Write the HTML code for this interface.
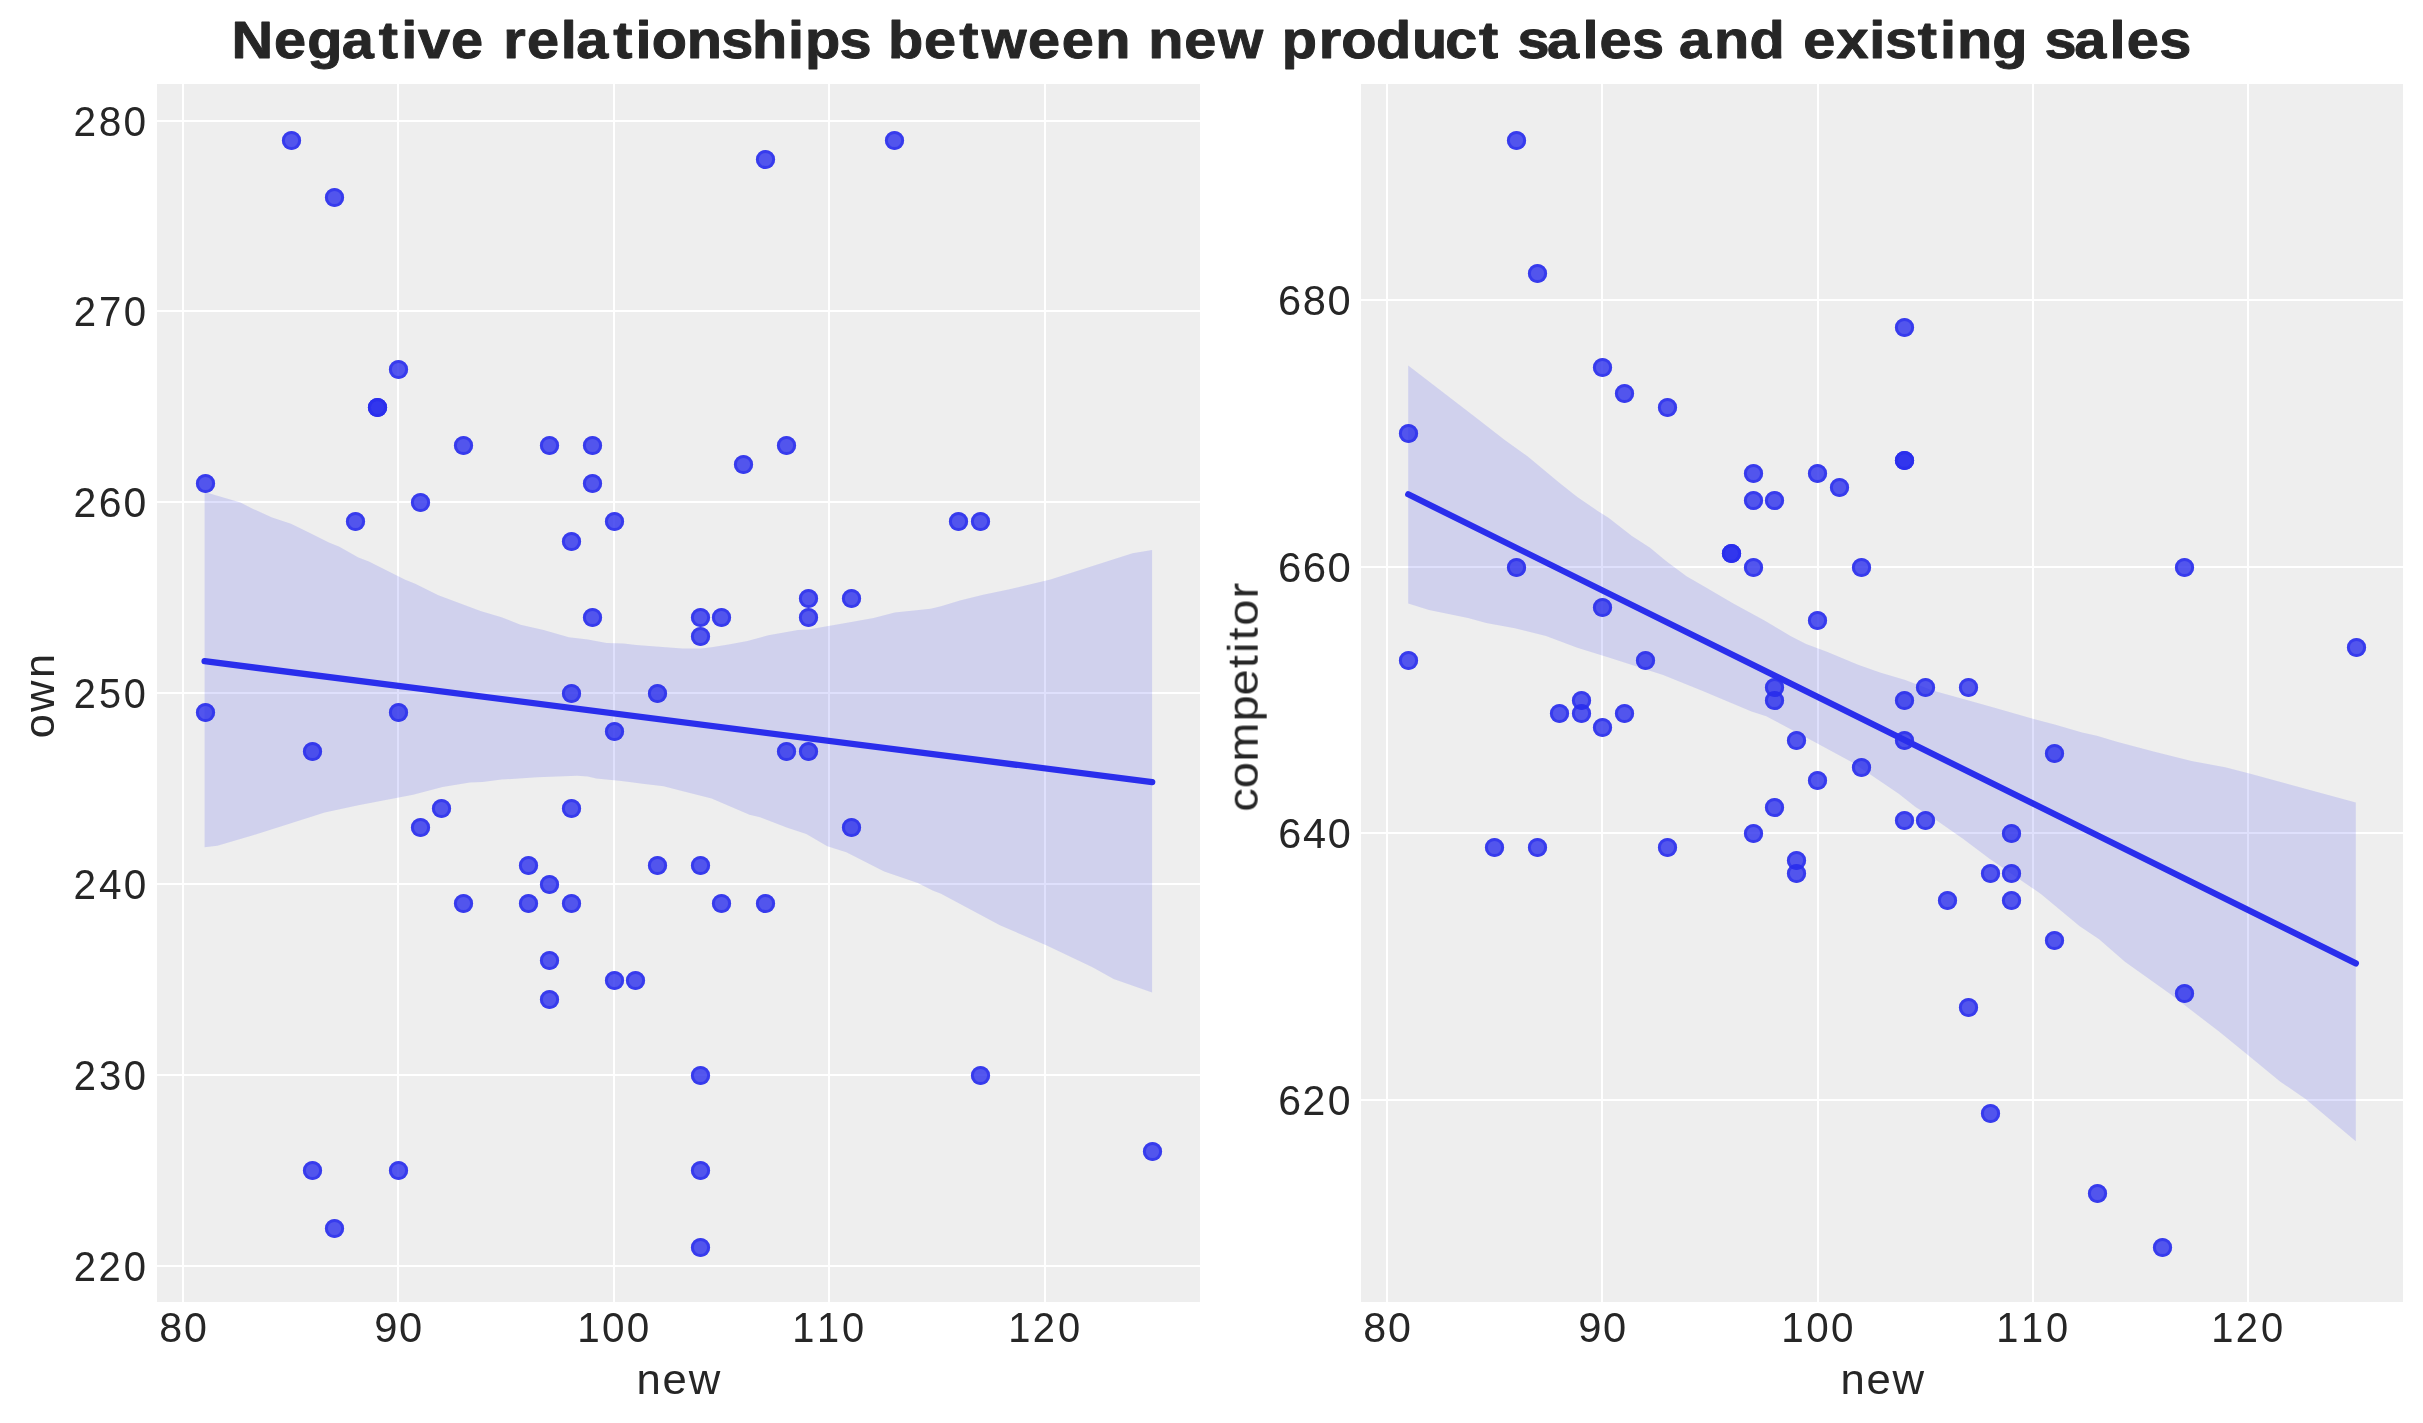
<!DOCTYPE html>
<html><head><meta charset="utf-8"><title>Negative relationships between new product sales and existing sales</title>
<style>html,body{margin:0;padding:0;background:#fff;overflow:hidden}svg{display:block}text{font-family:"Liberation Sans",sans-serif}</style>
</head><body>
<svg width="2423" height="1423" viewBox="0 0 2423 1423">
<rect x="0" y="0" width="2423" height="1423" fill="#ffffff"/>
<rect x="157" y="84" width="1043" height="1218" fill="#eeeeee"/>
<rect x="182" y="84" width="2" height="1218" fill="#ffffff"/>
<rect x="397" y="84" width="2" height="1218" fill="#ffffff"/>
<rect x="613" y="84" width="2" height="1218" fill="#ffffff"/>
<rect x="828" y="84" width="2" height="1218" fill="#ffffff"/>
<rect x="1044" y="84" width="2" height="1218" fill="#ffffff"/>
<rect x="157" y="120" width="1043" height="2" fill="#ffffff"/>
<rect x="157" y="310" width="1043" height="2" fill="#ffffff"/>
<rect x="157" y="501" width="1043" height="2" fill="#ffffff"/>
<rect x="157" y="692" width="1043" height="2" fill="#ffffff"/>
<rect x="157" y="883" width="1043" height="2" fill="#ffffff"/>
<rect x="157" y="1074" width="1043" height="2" fill="#ffffff"/>
<rect x="157" y="1265" width="1043" height="2" fill="#ffffff"/>
<g fill="#2a2eec" fill-opacity="0.8">
<circle cx="291.5" cy="140.5" r="9.6"/>
<circle cx="334.5" cy="197.5" r="9.6"/>
<circle cx="398.5" cy="369.5" r="9.6"/>
<circle cx="377.5" cy="407.5" r="9.6"/>
<circle cx="377.5" cy="407.5" r="9.6"/>
<circle cx="463.5" cy="445.5" r="9.6"/>
<circle cx="549.5" cy="445.5" r="9.6"/>
<circle cx="592.5" cy="445.5" r="9.6"/>
<circle cx="205.5" cy="483.5" r="9.6"/>
<circle cx="592.5" cy="483.5" r="9.6"/>
<circle cx="420.5" cy="502.5" r="9.6"/>
<circle cx="355.5" cy="521.5" r="9.6"/>
<circle cx="614.5" cy="521.5" r="9.6"/>
<circle cx="571.5" cy="541.5" r="9.6"/>
<circle cx="592.5" cy="617.5" r="9.6"/>
<circle cx="571.5" cy="693.5" r="9.6"/>
<circle cx="657.5" cy="693.5" r="9.6"/>
<circle cx="765.5" cy="159.5" r="9.6"/>
<circle cx="894.5" cy="140.5" r="9.6"/>
<circle cx="786.5" cy="445.5" r="9.6"/>
<circle cx="743.5" cy="464.5" r="9.6"/>
<circle cx="958.5" cy="521.5" r="9.6"/>
<circle cx="980.5" cy="521.5" r="9.6"/>
<circle cx="808.5" cy="598.5" r="9.6"/>
<circle cx="851.5" cy="598.5" r="9.6"/>
<circle cx="700.5" cy="617.5" r="9.6"/>
<circle cx="721.5" cy="617.5" r="9.6"/>
<circle cx="808.5" cy="617.5" r="9.6"/>
<circle cx="700.5" cy="636.5" r="9.6"/>
<circle cx="205.5" cy="712.5" r="9.6"/>
<circle cx="398.5" cy="712.5" r="9.6"/>
<circle cx="312.5" cy="751.5" r="9.6"/>
<circle cx="614.5" cy="731.5" r="9.6"/>
<circle cx="441.5" cy="808.5" r="9.6"/>
<circle cx="571.5" cy="808.5" r="9.6"/>
<circle cx="420.5" cy="827.5" r="9.6"/>
<circle cx="528.5" cy="865.5" r="9.6"/>
<circle cx="657.5" cy="865.5" r="9.6"/>
<circle cx="549.5" cy="884.5" r="9.6"/>
<circle cx="463.5" cy="903.5" r="9.6"/>
<circle cx="528.5" cy="903.5" r="9.6"/>
<circle cx="571.5" cy="903.5" r="9.6"/>
<circle cx="549.5" cy="960.5" r="9.6"/>
<circle cx="614.5" cy="980.5" r="9.6"/>
<circle cx="635.5" cy="980.5" r="9.6"/>
<circle cx="549.5" cy="999.5" r="9.6"/>
<circle cx="312.5" cy="1170.5" r="9.6"/>
<circle cx="398.5" cy="1170.5" r="9.6"/>
<circle cx="334.5" cy="1228.5" r="9.6"/>
<circle cx="786.5" cy="751.5" r="9.6"/>
<circle cx="808.5" cy="751.5" r="9.6"/>
<circle cx="851.5" cy="827.5" r="9.6"/>
<circle cx="700.5" cy="865.5" r="9.6"/>
<circle cx="721.5" cy="903.5" r="9.6"/>
<circle cx="765.5" cy="903.5" r="9.6"/>
<circle cx="700.5" cy="1075.5" r="9.6"/>
<circle cx="980.5" cy="1075.5" r="9.6"/>
<circle cx="1152.5" cy="1151.5" r="9.6"/>
<circle cx="700.5" cy="1170.5" r="9.6"/>
<circle cx="700.5" cy="1247.5" r="9.6"/>
</g>
<g fill="none" stroke="#2a2eec" stroke-opacity="0.65" stroke-width="3">
<circle cx="291.5" cy="140.5" r="8.1"/>
<circle cx="334.5" cy="197.5" r="8.1"/>
<circle cx="398.5" cy="369.5" r="8.1"/>
<circle cx="377.5" cy="407.5" r="8.1"/>
<circle cx="377.5" cy="407.5" r="8.1"/>
<circle cx="463.5" cy="445.5" r="8.1"/>
<circle cx="549.5" cy="445.5" r="8.1"/>
<circle cx="592.5" cy="445.5" r="8.1"/>
<circle cx="205.5" cy="483.5" r="8.1"/>
<circle cx="592.5" cy="483.5" r="8.1"/>
<circle cx="420.5" cy="502.5" r="8.1"/>
<circle cx="355.5" cy="521.5" r="8.1"/>
<circle cx="614.5" cy="521.5" r="8.1"/>
<circle cx="571.5" cy="541.5" r="8.1"/>
<circle cx="592.5" cy="617.5" r="8.1"/>
<circle cx="571.5" cy="693.5" r="8.1"/>
<circle cx="657.5" cy="693.5" r="8.1"/>
<circle cx="765.5" cy="159.5" r="8.1"/>
<circle cx="894.5" cy="140.5" r="8.1"/>
<circle cx="786.5" cy="445.5" r="8.1"/>
<circle cx="743.5" cy="464.5" r="8.1"/>
<circle cx="958.5" cy="521.5" r="8.1"/>
<circle cx="980.5" cy="521.5" r="8.1"/>
<circle cx="808.5" cy="598.5" r="8.1"/>
<circle cx="851.5" cy="598.5" r="8.1"/>
<circle cx="700.5" cy="617.5" r="8.1"/>
<circle cx="721.5" cy="617.5" r="8.1"/>
<circle cx="808.5" cy="617.5" r="8.1"/>
<circle cx="700.5" cy="636.5" r="8.1"/>
<circle cx="205.5" cy="712.5" r="8.1"/>
<circle cx="398.5" cy="712.5" r="8.1"/>
<circle cx="312.5" cy="751.5" r="8.1"/>
<circle cx="614.5" cy="731.5" r="8.1"/>
<circle cx="441.5" cy="808.5" r="8.1"/>
<circle cx="571.5" cy="808.5" r="8.1"/>
<circle cx="420.5" cy="827.5" r="8.1"/>
<circle cx="528.5" cy="865.5" r="8.1"/>
<circle cx="657.5" cy="865.5" r="8.1"/>
<circle cx="549.5" cy="884.5" r="8.1"/>
<circle cx="463.5" cy="903.5" r="8.1"/>
<circle cx="528.5" cy="903.5" r="8.1"/>
<circle cx="571.5" cy="903.5" r="8.1"/>
<circle cx="549.5" cy="960.5" r="8.1"/>
<circle cx="614.5" cy="980.5" r="8.1"/>
<circle cx="635.5" cy="980.5" r="8.1"/>
<circle cx="549.5" cy="999.5" r="8.1"/>
<circle cx="312.5" cy="1170.5" r="8.1"/>
<circle cx="398.5" cy="1170.5" r="8.1"/>
<circle cx="334.5" cy="1228.5" r="8.1"/>
<circle cx="786.5" cy="751.5" r="8.1"/>
<circle cx="808.5" cy="751.5" r="8.1"/>
<circle cx="851.5" cy="827.5" r="8.1"/>
<circle cx="700.5" cy="865.5" r="8.1"/>
<circle cx="721.5" cy="903.5" r="8.1"/>
<circle cx="765.5" cy="903.5" r="8.1"/>
<circle cx="700.5" cy="1075.5" r="8.1"/>
<circle cx="980.5" cy="1075.5" r="8.1"/>
<circle cx="1152.5" cy="1151.5" r="8.1"/>
<circle cx="700.5" cy="1170.5" r="8.1"/>
<circle cx="700.5" cy="1247.5" r="8.1"/>
</g>
<path d="M204.6,492.1 L240.5,502.6 L253.1,508.9 L272.1,517.4 L291,523.7 L307.9,532.1 L328.9,542.6 L339.4,546.8 L358.4,557.4 L368.9,561.6 L404.7,579.5 L415.2,583.7 L438.4,595.2 L480.5,611 L501.5,617.3 L520.5,624.7 L543.6,630 L568.9,637.3 L587.8,639.4 L606.7,643 L623.6,643.6 L636.2,645.1 L682.5,648.5 L701,648.4 L711.6,647.3 L728.4,644.6 L747.4,641 L768.4,635.3 L797.9,629.9 L808.4,629.4 L848.4,622.5 L873.6,617.9 L894.7,612.6 L930.5,608.8 L941,606.3 L959.9,600.4 L983.1,594.7 L1008.4,589.5 L1050.4,579.4 L1132.5,553.3 L1152.1,549.9 L1152.1,992.6 L1113.6,978.9 L1092.5,967.3 L1046.2,945.2 L999.9,925.2 L941,893.7 L932.6,890.5 L917.8,883.1 L884.2,871.6 L846.3,852.2 L827.3,846.3 L806.3,834.1 L787.3,827.8 L760,817.3 L749.5,814.7 L711.6,798.5 L680,790.5 L663.6,786.3 L642.5,783.8 L621.5,781 L596.2,778.5 L587.8,776.4 L577.3,775.8 L537.3,777.3 L501.5,779.6 L482.6,782.1 L469.9,782.5 L442.6,786.9 L413.1,794.7 L358.4,805.2 L324.7,812.6 L284.7,825.2 L253.1,835.3 L217.4,845.7 L204.6,847.3 Z" fill="#2a2eec" fill-opacity="0.15"/>
<line x1="204.58" y1="661.19" x2="1152.2" y2="782.1" stroke="#2a2eec" stroke-width="6.25" stroke-linecap="round"/>
<rect x="1361" y="84" width="1042" height="1218" fill="#eeeeee"/>
<rect x="1386" y="84" width="2" height="1218" fill="#ffffff"/>
<rect x="1601" y="84" width="2" height="1218" fill="#ffffff"/>
<rect x="1817" y="84" width="2" height="1218" fill="#ffffff"/>
<rect x="2032" y="84" width="2" height="1218" fill="#ffffff"/>
<rect x="2247" y="84" width="2" height="1218" fill="#ffffff"/>
<rect x="1361" y="299" width="1042" height="2" fill="#ffffff"/>
<rect x="1361" y="566" width="1042" height="2" fill="#ffffff"/>
<rect x="1361" y="832" width="1042" height="2" fill="#ffffff"/>
<rect x="1361" y="1099" width="1042" height="2" fill="#ffffff"/>
<g fill="#2a2eec" fill-opacity="0.8">
<circle cx="1516.5" cy="140.5" r="9.6"/>
<circle cx="1537.5" cy="273.5" r="9.6"/>
<circle cx="1602.5" cy="367.5" r="9.6"/>
<circle cx="1624.5" cy="393.5" r="9.6"/>
<circle cx="1667.5" cy="407.5" r="9.6"/>
<circle cx="1408.5" cy="433.5" r="9.6"/>
<circle cx="1753.5" cy="473.5" r="9.6"/>
<circle cx="1817.5" cy="473.5" r="9.6"/>
<circle cx="1839.5" cy="487.5" r="9.6"/>
<circle cx="1753.5" cy="500.5" r="9.6"/>
<circle cx="1774.5" cy="500.5" r="9.6"/>
<circle cx="1731.5" cy="553.5" r="9.6"/>
<circle cx="1731.5" cy="553.5" r="9.6"/>
<circle cx="1516.5" cy="567.5" r="9.6"/>
<circle cx="1753.5" cy="567.5" r="9.6"/>
<circle cx="1861.5" cy="567.5" r="9.6"/>
<circle cx="1602.5" cy="607.5" r="9.6"/>
<circle cx="1817.5" cy="620.5" r="9.6"/>
<circle cx="1408.5" cy="660.5" r="9.6"/>
<circle cx="1645.5" cy="660.5" r="9.6"/>
<circle cx="1774.5" cy="687.5" r="9.6"/>
<circle cx="1904.5" cy="327.5" r="9.6"/>
<circle cx="1904.5" cy="460.5" r="9.6"/>
<circle cx="1904.5" cy="460.5" r="9.6"/>
<circle cx="2184.5" cy="567.5" r="9.6"/>
<circle cx="2356.5" cy="647.5" r="9.6"/>
<circle cx="1925.5" cy="687.5" r="9.6"/>
<circle cx="1968.5" cy="687.5" r="9.6"/>
<circle cx="1774.5" cy="700.5" r="9.6"/>
<circle cx="1581.5" cy="700.5" r="9.6"/>
<circle cx="1559.5" cy="713.5" r="9.6"/>
<circle cx="1581.5" cy="713.5" r="9.6"/>
<circle cx="1624.5" cy="713.5" r="9.6"/>
<circle cx="1602.5" cy="727.5" r="9.6"/>
<circle cx="1796.5" cy="740.5" r="9.6"/>
<circle cx="1861.5" cy="767.5" r="9.6"/>
<circle cx="1817.5" cy="780.5" r="9.6"/>
<circle cx="1774.5" cy="807.5" r="9.6"/>
<circle cx="1753.5" cy="833.5" r="9.6"/>
<circle cx="1494.5" cy="847.5" r="9.6"/>
<circle cx="1537.5" cy="847.5" r="9.6"/>
<circle cx="1667.5" cy="847.5" r="9.6"/>
<circle cx="1796.5" cy="860.5" r="9.6"/>
<circle cx="1796.5" cy="873.5" r="9.6"/>
<circle cx="1904.5" cy="700.5" r="9.6"/>
<circle cx="1904.5" cy="740.5" r="9.6"/>
<circle cx="2054.5" cy="753.5" r="9.6"/>
<circle cx="1904.5" cy="820.5" r="9.6"/>
<circle cx="1925.5" cy="820.5" r="9.6"/>
<circle cx="2011.5" cy="833.5" r="9.6"/>
<circle cx="1990.5" cy="873.5" r="9.6"/>
<circle cx="2011.5" cy="873.5" r="9.6"/>
<circle cx="1947.5" cy="900.5" r="9.6"/>
<circle cx="2011.5" cy="900.5" r="9.6"/>
<circle cx="2054.5" cy="940.5" r="9.6"/>
<circle cx="2184.5" cy="993.5" r="9.6"/>
<circle cx="1968.5" cy="1007.5" r="9.6"/>
<circle cx="1990.5" cy="1113.5" r="9.6"/>
<circle cx="2097.5" cy="1193.5" r="9.6"/>
<circle cx="2162.5" cy="1247.5" r="9.6"/>
</g>
<g fill="none" stroke="#2a2eec" stroke-opacity="0.65" stroke-width="3">
<circle cx="1516.5" cy="140.5" r="8.1"/>
<circle cx="1537.5" cy="273.5" r="8.1"/>
<circle cx="1602.5" cy="367.5" r="8.1"/>
<circle cx="1624.5" cy="393.5" r="8.1"/>
<circle cx="1667.5" cy="407.5" r="8.1"/>
<circle cx="1408.5" cy="433.5" r="8.1"/>
<circle cx="1753.5" cy="473.5" r="8.1"/>
<circle cx="1817.5" cy="473.5" r="8.1"/>
<circle cx="1839.5" cy="487.5" r="8.1"/>
<circle cx="1753.5" cy="500.5" r="8.1"/>
<circle cx="1774.5" cy="500.5" r="8.1"/>
<circle cx="1731.5" cy="553.5" r="8.1"/>
<circle cx="1731.5" cy="553.5" r="8.1"/>
<circle cx="1516.5" cy="567.5" r="8.1"/>
<circle cx="1753.5" cy="567.5" r="8.1"/>
<circle cx="1861.5" cy="567.5" r="8.1"/>
<circle cx="1602.5" cy="607.5" r="8.1"/>
<circle cx="1817.5" cy="620.5" r="8.1"/>
<circle cx="1408.5" cy="660.5" r="8.1"/>
<circle cx="1645.5" cy="660.5" r="8.1"/>
<circle cx="1774.5" cy="687.5" r="8.1"/>
<circle cx="1904.5" cy="327.5" r="8.1"/>
<circle cx="1904.5" cy="460.5" r="8.1"/>
<circle cx="1904.5" cy="460.5" r="8.1"/>
<circle cx="2184.5" cy="567.5" r="8.1"/>
<circle cx="2356.5" cy="647.5" r="8.1"/>
<circle cx="1925.5" cy="687.5" r="8.1"/>
<circle cx="1968.5" cy="687.5" r="8.1"/>
<circle cx="1774.5" cy="700.5" r="8.1"/>
<circle cx="1581.5" cy="700.5" r="8.1"/>
<circle cx="1559.5" cy="713.5" r="8.1"/>
<circle cx="1581.5" cy="713.5" r="8.1"/>
<circle cx="1624.5" cy="713.5" r="8.1"/>
<circle cx="1602.5" cy="727.5" r="8.1"/>
<circle cx="1796.5" cy="740.5" r="8.1"/>
<circle cx="1861.5" cy="767.5" r="8.1"/>
<circle cx="1817.5" cy="780.5" r="8.1"/>
<circle cx="1774.5" cy="807.5" r="8.1"/>
<circle cx="1753.5" cy="833.5" r="8.1"/>
<circle cx="1494.5" cy="847.5" r="8.1"/>
<circle cx="1537.5" cy="847.5" r="8.1"/>
<circle cx="1667.5" cy="847.5" r="8.1"/>
<circle cx="1796.5" cy="860.5" r="8.1"/>
<circle cx="1796.5" cy="873.5" r="8.1"/>
<circle cx="1904.5" cy="700.5" r="8.1"/>
<circle cx="1904.5" cy="740.5" r="8.1"/>
<circle cx="2054.5" cy="753.5" r="8.1"/>
<circle cx="1904.5" cy="820.5" r="8.1"/>
<circle cx="1925.5" cy="820.5" r="8.1"/>
<circle cx="2011.5" cy="833.5" r="8.1"/>
<circle cx="1990.5" cy="873.5" r="8.1"/>
<circle cx="2011.5" cy="873.5" r="8.1"/>
<circle cx="1947.5" cy="900.5" r="8.1"/>
<circle cx="2011.5" cy="900.5" r="8.1"/>
<circle cx="2054.5" cy="940.5" r="8.1"/>
<circle cx="2184.5" cy="993.5" r="8.1"/>
<circle cx="1968.5" cy="1007.5" r="8.1"/>
<circle cx="1990.5" cy="1113.5" r="8.1"/>
<circle cx="2097.5" cy="1193.5" r="8.1"/>
<circle cx="2162.5" cy="1247.5" r="8.1"/>
</g>
<path d="M1408.2,365.6 L1442,391.6 L1475.8,417.6 L1504.4,439.7 L1527.8,456.6 L1559,482.6 L1577.3,496.9 L1598.1,511.2 L1608.5,517.7 L1631.9,536 L1650.1,547.7 L1665.7,560.7 L1686.5,576.3 L1704.7,586.7 L1733.3,603.6 L1764.5,620.5 L1790.5,636.1 L1806.1,643.9 L1826.9,651.7 L1858.1,664.7 L1880,672.6 L1905.3,680 L1932.6,690.5 L1970.5,701 L1993.7,707.4 L2033.7,718.9 L2054.7,724.6 L2082.1,732.6 L2096.8,735.8 L2117.8,742.1 L2153.6,751.6 L2191.5,761 L2225.2,767.3 L2250.4,773.7 L2355.8,802.5 L2355.8,1141.2 L2305.9,1099.2 L2280,1081.4 L2244.5,1052.3 L2218.7,1031.3 L2170.2,994.1 L2124.9,961.8 L2099.1,939.2 L2079.7,926.2 L2040.9,893.9 L1989.2,858.4 L1963.3,839 L1931,816.4 L1915.8,807.3 L1898.7,793.7 L1853.4,763 L1814.6,742 L1766.2,716.2 L1751.5,711.5 L1702.1,690.7 L1663.1,675.1 L1611.1,658.2 L1577.3,647.8 L1546,636.1 L1514.8,628.3 L1486.2,623.1 L1468,617.9 L1429,610.1 L1408.2,603.6 Z" fill="#2a2eec" fill-opacity="0.15"/>
<line x1="1408.24" y1="494.32" x2="2355.86" y2="963.41" stroke="#2a2eec" stroke-width="6.25" stroke-linecap="round"/>
<g fill="#262626" font-family="Liberation Sans, sans-serif" opacity="0.999">
<text transform="translate(0,1342) scale(0.9790,1)" x="162.75 188.02" font-size="42.1">80</text>
<text transform="translate(0,1342) scale(0.9895,1)" x="378.15 403.28" font-size="42.1">90</text>
<text transform="translate(0,1342) scale(0.9602,1)" x="601.1 627.08 652.85" font-size="42.1">100</text>
<text transform="translate(0,1342) scale(0.9456,1)" x="837.9 864.06 890.43" font-size="42.1">110</text>
<text transform="translate(0,1342) scale(0.9482,1)" x="1063.38 1089.14 1115.77" font-size="42.1">120</text>
<text transform="translate(0,1342) scale(0.9790,1)" x="1392.59 1417.87" font-size="42.1">80</text>
<text transform="translate(0,1342) scale(0.9895,1)" x="1594.93 1620.06" font-size="42.1">90</text>
<text transform="translate(0,1342) scale(0.9602,1)" x="1855.05 1881.03 1906.8" font-size="42.1">100</text>
<text transform="translate(0,1342) scale(0.9456,1)" x="2111.13 2137.29 2163.66" font-size="42.1">110</text>
<text transform="translate(0,1342) scale(0.9482,1)" x="2332.09 2357.84 2384.48" font-size="42.1">120</text>
<text transform="translate(0,135.7) scale(0.9659,1)" x="76.2 102.34 127.96" font-size="42.1">280</text>
<text transform="translate(0,325.7) scale(0.9553,1)" x="77.17 103.53 129.51" font-size="42.1">270</text>
<text transform="translate(0,516.7) scale(0.9735,1)" x="75.5 101.45 126.86" font-size="42.1">260</text>
<text transform="translate(0,707.7) scale(0.9439,1)" x="78.24 104.83 131.21" font-size="42.1">250</text>
<text transform="translate(0,898.7) scale(0.9627,1)" x="76.49 102.72 128.43" font-size="42.1">240</text>
<text transform="translate(0,1089.7) scale(0.9494,1)" x="77.72 104.38 130.39" font-size="42.1">230</text>
<text transform="translate(0,1280.7) scale(0.9507,1)" x="77.6 103.62 130.19" font-size="42.1">220</text>
<text transform="translate(0,314.7) scale(0.9884,1)" x="1293.1 1318.14 1343.17" font-size="42.1">680</text>
<text transform="translate(0,581.7) scale(0.9962,1)" x="1282.93 1307.77 1332.61" font-size="42.1">660</text>
<text transform="translate(0,847.7) scale(0.9847,1)" x="1298.06 1323.19 1348.32" font-size="42.1">640</text>
<text transform="translate(0,1114.7) scale(0.9735,1)" x="1313.06 1337.94 1363.88" font-size="42.1">620</text>
<text transform="translate(0,1393.7) scale(1.0185,1)" x="625.03 650.57 676.22" font-size="42.9">new</text>
<text transform="translate(0,1393.7) scale(1.0185,1)" x="1807.01 1832.55 1858.2" font-size="42.9">new</text>
<text transform="translate(53.8,0) rotate(-90) scale(1.0354,1)" x="-712.98 -687.73 -654.92" font-size="42.0">own</text>
<text transform="translate(1257.7,0) rotate(-90) scale(1.1160,1)" x="-727.29 -706.31 -682.43 -646.47 -623.26 -598.8 -584.99 -573.79 -560.77 -536.35" font-size="42.0">competitor</text>
<text stroke="#262626" stroke-width="0.9" stroke-linejoin="round" transform="translate(0,58.2) scale(1.1241,1)" x="205.96 243.65 273.29 304.12 336.97 356.88 371.86 401.17 431.38 447.74 468.76 498.87 512.63 545.48 565.4 579.73 610.87 641.56 668.91 701 716.21 746.79 774.66 790.01 821.94 853.4 873.42 914.45 944.62 974.41 1006.49 1021.56 1053.6 1083.82 1124.9 1140.25 1173.09 1193.15 1224.12 1256.07 1285.74 1315.84 1335.85 1349.94 1376.23 1407.73 1423.02 1451.84 1479.71 1493.61 1524.78 1556.28 1588.71 1604.15 1633.84 1662.96 1676.9 1706.03 1725.94 1740.86 1772.37 1804.78 1818.87 1845.16 1876.66 1891.96 1920.77" font-size="51.3" font-weight="bold">Negative relationships between new product sales and existing sales</text>
</g>
</svg>
</body></html>
